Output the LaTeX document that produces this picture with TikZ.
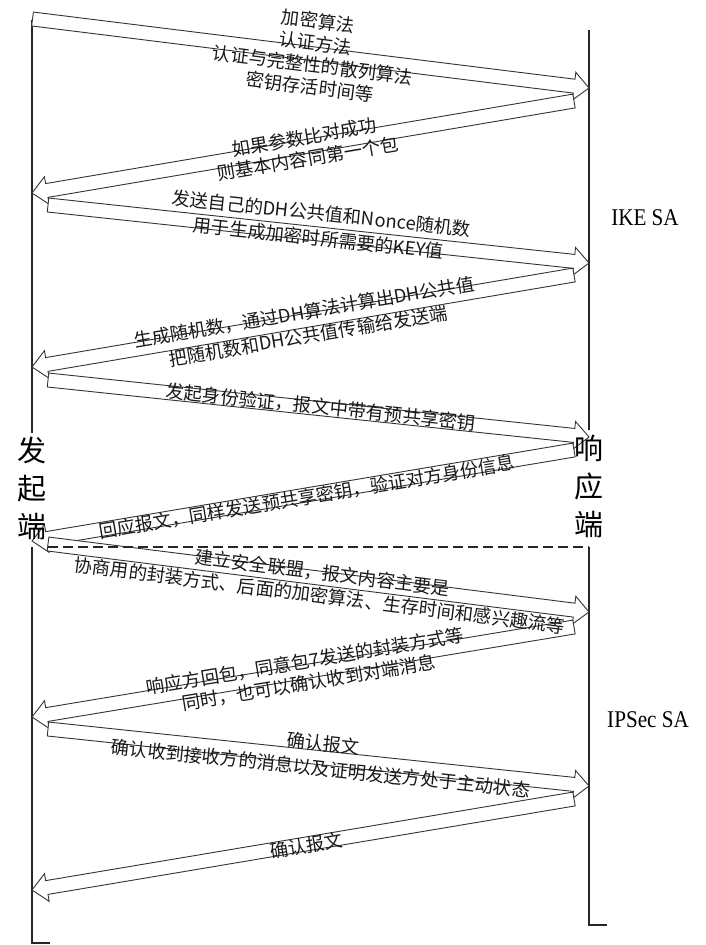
\documentclass[tikz,border=0pt]{standalone}
\usepackage{fontspec}
\setmainfont{Liberation Serif}
\newfontfamily\cjk{Noto Sans CJK SC}
\newfontfamily\phasefont[FakeStretch=0.88]{Liberation Serif}
\usetikzlibrary{calc}
\tikzset{
  blk/.style={draw=black!80, line width=0.9pt, fill=white, line join=miter},
  lab/.style={font=\cjk\fontsize{18.3}{22}\selectfont, align=center, inner sep=0pt, text=black!90},
  side/.style={font=\cjk\fontsize{29}{38}\selectfont, align=center, inner sep=0pt},
  phase/.style={font=\phasefont\fontsize{24}{26}\selectfont, inner sep=0pt},
  life/.style={draw=black!85, line width=1.2pt},
  sepline/.style={draw=black!85, line width=1.5pt, dash pattern=on 10pt off 5pt},
}
% block arrow from tail coordinate #1 to tip coordinate #2
\newcommand\blockarrow[2]{%
  \path[blk] let \p1=(#1), \p2=(#2),
      \n1={atan2(\y2-\y1,\x2-\x1)}, \n2={veclen(\x2-\x1,\y2-\y1)} in
    ($(\p1)+(\n1+90:7pt)$) -- ++(\n1:\n2-15pt) -- ++(\n1+90:7pt) -- (\p2)
    -- ++({-15*cos(\n1)+14*sin(\n1)},{-15*sin(\n1)-14*cos(\n1)})
    -- ++(\n1+90:7pt) -- ++(\n1+180:\n2-15pt) -- cycle;
}
\begin{document}
\begin{tikzpicture}[x=1pt,y=1pt]
\fill[white] (0,0) rectangle (706,-945);
\path[use as bounding box] (0,0) rectangle (706,-945);

% lifeline coordinates
\coordinate (La) at (32,-20);
\coordinate (Lb) at (32,-433);
\coordinate (Lc) at (32,-547);
\coordinate (Ld) at (32,-943);
\coordinate (Le) at (50,-943);
\coordinate (Ra) at (589,-30);
\coordinate (Rb) at (589,-430);
\coordinate (Rc) at (589,-547);
\coordinate (Rd) at (589,-925);
\coordinate (Re) at (607,-925);
\coordinate (Da) at (48,-547);

\draw[life] (La) -- (Lb);
\draw[life] (Lc) -- (Ld) -- (Le);
\draw[life] (Ra) -- (Rb);
\draw[life] (Rc) -- (Rd) -- (Re);

% arrow end points
\coordinate (t1) at (32.5,-19);  \coordinate (h1) at (589,-88);
\coordinate (t2) at (574,-101);  \coordinate (h2) at (32,-193);
\coordinate (t3) at (48,-205);   \coordinate (h3) at (589,-263);
\coordinate (t4) at (574,-275);  \coordinate (h4) at (32,-367);
\coordinate (t5) at (48,-380);   \coordinate (h5) at (589,-437);
\coordinate (t6) at (574,-450);  \coordinate (h6) at (32,-541);
\coordinate (t7) at (48,-544);   \coordinate (h7) at (589,-612);
\coordinate (t8) at (574,-627);  \coordinate (h8) at (32,-717);
\coordinate (t9) at (48,-729);   \coordinate (h9) at (589,-786);
\coordinate (t10) at (574,-799); \coordinate (h10) at (32,-890);

\blockarrow{t1}{h1}
\blockarrow{t2}{h2}
\blockarrow{t3}{h3}
\blockarrow{t4}{h4}
\blockarrow{t5}{h5}
\blockarrow{t6}{h6}
\blockarrow{t7}{h7}
\blockarrow{t8}{h8}
\blockarrow{t9}{h9}
\blockarrow{t10}{h10}

% separator between the two phases (drawn over the arrows)
\draw[sepline] (Da) -- (Rc);

% labels
\node[lab, rotate=-7.1] (m1) at (314,-54) {加密算法\\认证方法\\认证与完整性的散列算法\\密钥存活时间等};
\node[lab, rotate=9.6] (m2) at (306,-148) {如果参数比对成功\\则基本内容同第一个包};
\node[lab, rotate=-6.1, font=\cjk\fontsize{18.3}{25}\selectfont] (m3) at (320,-226) {发送自己的DH公共值和Nonce随机数\\用于生成加密时所需要的KEY值};
\node[lab, rotate=9.6, font=\cjk\fontsize{18.3}{24}\selectfont] (m4) at (306,-324) {生成随机数，通过DH算法计算出DH公共值\\把随机数和DH公共值传输给发送端};
\node[lab, rotate=-6.0] (m5) at (321,-407) {发起身份验证，报文中带有预共享密钥};
\node[lab, rotate=9.5] (m6) at (307,-497) {回应报文，同样发送预共享密钥，验证对方身份信息};
\node[lab, rotate=-7.2, font=\cjk\fontsize{18.3}{23}\selectfont] (m7) at (321,-584) {建立安全联盟，报文内容主要是\\协商用的封装方式、后面的加密算法、生存时间和感兴趣流等};
\node[lab, rotate=9.4] (m8) at (307,-672) {响应方回包，同意包7发送的封装方式等\\同时，也可以确认收到对端消息};
\node[lab, rotate=-6.0, font=\cjk\fontsize{18.3}{25}\selectfont] (m9) at (322,-756) {确认报文\\确认收到接收方的消息以及证明发送方处于主动状态};
\node[lab, rotate=9.5] (m10) at (306,-846) {确认报文};

% side labels
\node[side] (init) at (32,-488) {发\\起\\端};
\node[side] (resp) at (589,-486) {响\\应\\端};
\node[phase] (ike) at (645,-218) {IKE SA};
\node[phase] (ipsec) at (648,-720) {IPSec SA};
\end{tikzpicture}
\end{document}
